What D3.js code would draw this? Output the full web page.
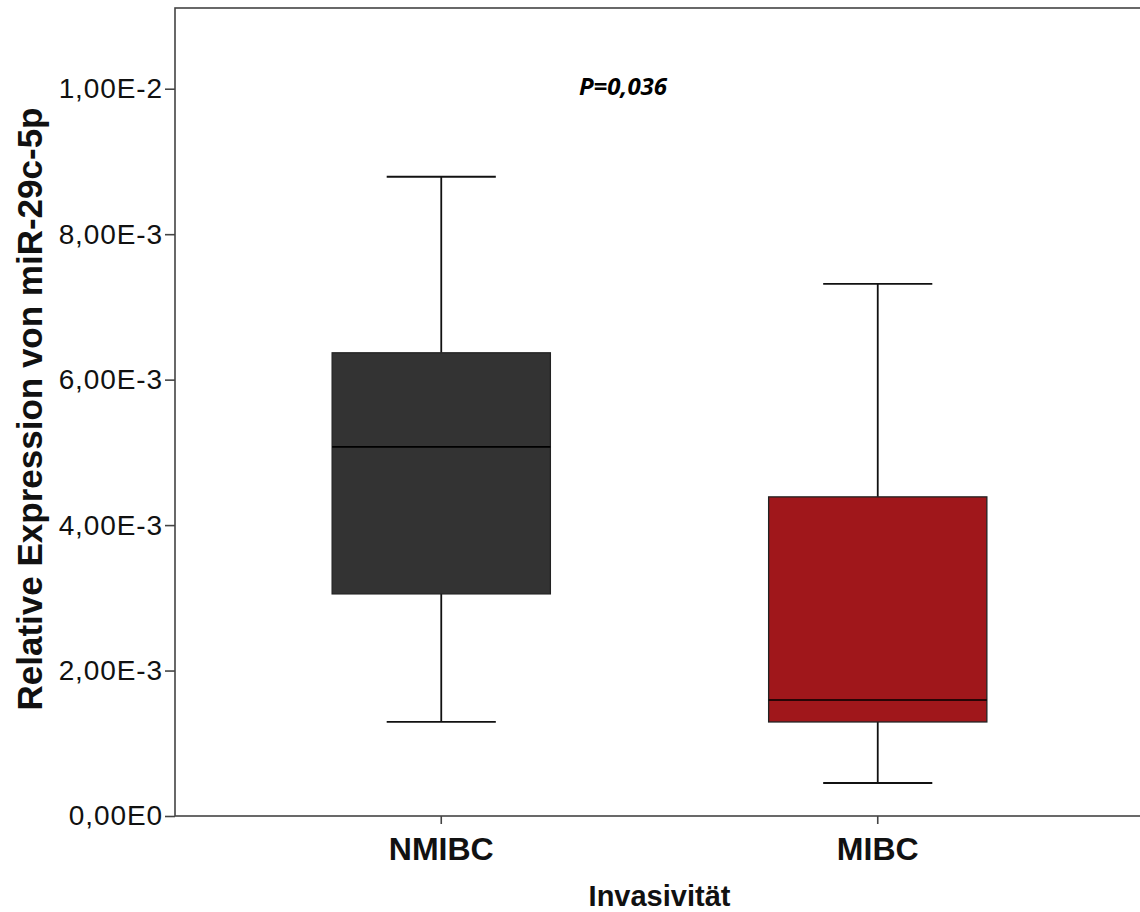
<!DOCTYPE html>
<html>
<head>
<meta charset="utf-8">
<script src="https://cdn.jsdelivr.net/npm/d3@7"></script>
<style>
  html, body { margin: 0; padding: 0; background: #fff; }
  svg { display: block; }
</style>
</head>
<body>
<svg id="chart" width="1140" height="912"></svg>
<script>
// Box plot summary per invasiveness group
const categories = ["NMIBC", "MIBC"];
const whiskerLow = [0.001293, 0.000454];
const q1 = [0.003054, 0.001293];
const median = [0.005076, 0.001596];
const q3 = [0.006369, 0.004388];
const whiskerHigh = [0.008790, 0.007318];
const boxColors = ["#333333", "#a0171b"];
const yTicks = [0, 0.002, 0.004, 0.006, 0.008, 0.010];
const yTickLabels = ["0,00E0", "2,00E-3", "4,00E-3", "6,00E-3", "8,00E-3", "1,00E-2"];
const pLabel = "P=0,036";

const svg = d3.select("#chart");
const plotLeft = 175, plotTop = 8, plotBottom = 816, plotRight = 1144;

const x = d3.scaleBand().domain(categories).range([plotLeft, plotRight]).paddingInner(0.5).paddingOuter(0.36);
const y = d3.scaleLinear().domain([0, 0.01111]).range([plotBottom, plotTop]);

const rows = categories.map((c, i) => ({
  c, lo: whiskerLow[i], q1: q1[i], med: median[i], q3: q3[i], hi: whiskerHigh[i], color: boxColors[i]
}));

// plot frame
svg.append("rect")
  .attr("x", plotLeft).attr("y", plotTop)
  .attr("width", plotRight - plotLeft).attr("height", plotBottom - plotTop)
  .attr("fill", "none").attr("stroke", "#444").attr("stroke-width", 1.6);

const bw = x.bandwidth();
const capW = bw * 0.5;

const g = svg.append("g").selectAll("g").data(rows).join("g");
// whisker stems
g.append("line")
  .attr("x1", d => x(d.c) + bw / 2).attr("x2", d => x(d.c) + bw / 2)
  .attr("y1", d => y(d.hi)).attr("y2", d => y(d.q3))
  .attr("stroke", "#111").attr("stroke-width", 1.8);
g.append("line")
  .attr("x1", d => x(d.c) + bw / 2).attr("x2", d => x(d.c) + bw / 2)
  .attr("y1", d => y(d.q1)).attr("y2", d => y(d.lo))
  .attr("stroke", "#111").attr("stroke-width", 1.8);
// whisker caps
["hi", "lo"].forEach(k => {
  g.append("line")
    .attr("x1", d => x(d.c) + bw / 2 - capW / 2).attr("x2", d => x(d.c) + bw / 2 + capW / 2)
    .attr("y1", d => y(d[k])).attr("y2", d => y(d[k]))
    .attr("stroke", "#111").attr("stroke-width", 1.8);
});
// boxes
g.append("rect")
  .attr("x", d => x(d.c)).attr("width", bw)
  .attr("y", d => y(d.q3)).attr("height", d => y(d.q1) - y(d.q3))
  .attr("fill", d => d.color).attr("stroke", "#222").attr("stroke-width", 1.3);
// medians
g.append("line")
  .attr("x1", d => x(d.c)).attr("x2", d => x(d.c) + bw)
  .attr("y1", d => y(d.med)).attr("y2", d => y(d.med))
  .attr("stroke", "#000").attr("stroke-width", 1.6);

// y axis
const yAxis = svg.append("g")
  .attr("transform", `translate(${plotLeft},0)`)
  .call(d3.axisLeft(y).tickValues(yTicks).tickSize(10).tickPadding(2)
    .tickFormat((d, i) => yTickLabels[i]));
yAxis.select(".domain").remove();
yAxis.selectAll("line").attr("stroke", "#444").attr("stroke-width", 1.6);
yAxis.selectAll("text")
  .attr("font-family", "Liberation Sans, Arial, sans-serif")
  .attr("font-size", 28).attr("fill", "#111").attr("letter-spacing", 0.9);

// x axis
const xAxis = svg.append("g")
  .attr("transform", `translate(0,${plotBottom})`)
  .call(d3.axisBottom(x).tickSize(8).tickPadding(13));
xAxis.select(".domain").remove();
xAxis.selectAll("line").attr("stroke", "#444").attr("stroke-width", 1.6);
xAxis.selectAll("text")
  .attr("font-family", "Liberation Sans, Arial, sans-serif")
  .attr("font-size", 32).attr("font-weight", "bold").attr("fill", "#111");

// axis titles
svg.append("text")
  .attr("transform", `translate(42,409) rotate(-90)`)
  .attr("text-anchor", "middle")
  .attr("font-family", "Liberation Sans, Arial, sans-serif")
  .attr("font-size", 35).attr("font-weight", "bold").attr("fill", "#111")
  .text("Relative Expression von miR-29c-5p");

svg.append("text")
  .attr("x", (plotLeft + plotRight) / 2).attr("y", 906)
  .attr("text-anchor", "middle")
  .attr("font-family", "Liberation Sans, Arial, sans-serif")
  .attr("font-size", 29).attr("font-weight", "bold").attr("fill", "#111")
  .text("Invasivität");

// significance annotation
svg.append("text")
  .attr("x", 623).attr("y", 95)
  .attr("text-anchor", "middle")
  .attr("font-family", "Open Sans, sans-serif")
  .attr("font-size", 24).attr("font-weight", "bold").attr("font-style", "italic")
  .attr("fill", "#000")
  .text(pLabel);
</script>
</body>
</html>
